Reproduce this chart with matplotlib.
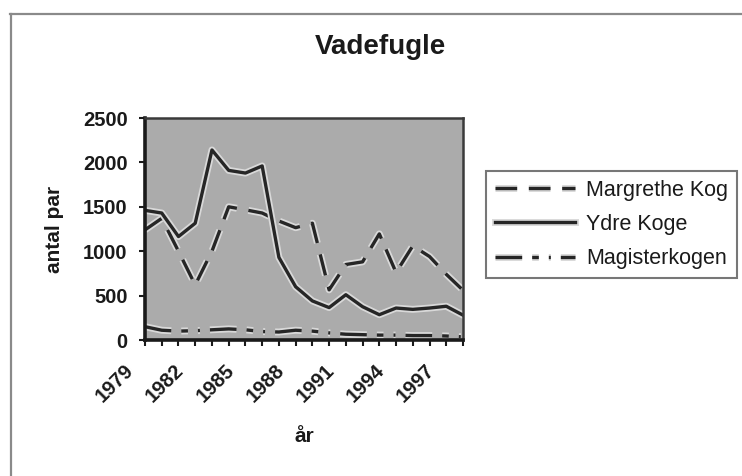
import matplotlib
matplotlib.use("Agg")
import matplotlib.pyplot as plt
import matplotlib.patheffects as pe
import matplotlib.transforms as mtransforms
from matplotlib.lines import Line2D

plt.rcParams['font.family'] = ['Liberation Sans', 'DejaVu Sans']

# data
aar = list(range(1979, 1999))
margrethe_kog = [1240, 1370, 1000, 620, 1000, 1500, 1466, 1430, 1340, 1265,
                 1315, 565, 850, 880, 1195, 760, 1060, 940, 740, 560]
ydre_koge = [1460, 1430, 1165, 1315, 2140, 1910, 1880, 1960, 930, 600,
             440, 365, 510, 375, 285, 360, 345, 360, 380, 280]
magisterkogen = [150, 110, 100, 105, 115, 125, 115, 95, 90, 110,
                 100, 80, 65, 60, 55, 55, 50, 50, 45, 35]
serier = ['Margrethe Kog', 'Ydre Koge', 'Magisterkogen']
y_ticks = [0, 500, 1000, 1500, 2000, 2500]
x_labels = [1979, 1982, 1985, 1988, 1991, 1994, 1997]

W, H = 742, 476
fig = plt.figure(figsize=(W / 100, H / 100), dpi=100)
fig.patch.set_facecolor('white')

# plot area in pixels: left 145, right 463, top 118, bottom 340
ax = fig.add_axes([145 / W, 1 - 340 / H, 318 / W, 222 / H])
ax.set_facecolor('#ababab')

linjefarve = '#262626'
halo = [pe.Stroke(linewidth=5.0, foreground='#d9d9d9'), pe.Normal()]

ax.plot(aar, margrethe_kog, color=linjefarve, lw=2.4,
        linestyle=(0, (6.5, 3.5)), label=serier[0], path_effects=halo)
ax.plot(aar, ydre_koge, color=linjefarve, lw=2.4,
        label=serier[1], path_effects=halo)
ax.plot(aar, magisterkogen, color=linjefarve, lw=2.4,
        linestyle=(0, (8, 3, 2, 3, 0.6, 3)), label=serier[2], path_effects=halo)

ax.set_xlim(1979, 1998)
ax.set_ylim(0, 2500)
ax.set_yticks(y_ticks)
ax.set_xticks(aar)
ax.set_xticklabels([str(a) if a in x_labels else '' for a in aar])

for side in ['top', 'right']:
    ax.spines[side].set_color('#3a3a3a')
    ax.spines[side].set_linewidth(1.8)
for side in ['left', 'bottom']:
    ax.spines[side].set_color('#1a1a1a')
    ax.spines[side].set_linewidth(2.6)

ax.tick_params(axis='y', direction='out', length=4, width=1.5, pad=8.5,
               labelsize=14.5, colors='#1a1a1a')
ax.tick_params(axis='x', direction='out', length=4, width=1.5, pad=11,
               labelsize=14.5, colors='#1a1a1a')
for lab in ax.get_yticklabels():
    lab.set_fontweight('bold')
forskyd = mtransforms.ScaledTranslation(-21 / 100, 0, fig.dpi_scale_trans)
for lab in ax.get_xticklabels():
    lab.set_fontweight('bold')
    lab.set_rotation(45)
    lab.set_ha('right')
    lab.set_rotation_mode('anchor')
    lab.set_va('top')
    lab.set_transform(lab.get_transform() + forskyd)

ax.set_ylabel('antal par', fontsize=15, fontweight='bold', color='#1a1a1a')
ax.yaxis.set_label_coords(-0.255, 0.5)
ax.set_xlabel('år', fontsize=15, fontweight='bold', color='#1a1a1a')
ax.xaxis.set_label_coords(0.5, -0.39)

fig.text(380 / W, 1 - 47 / H, 'Vadefugle', ha='center', va='center',
         fontsize=20, fontweight='bold', color='#1a1a1a')

leg = fig.legend(loc='upper left', bbox_to_anchor=(486 / W, 1 - 171 / H),
                 frameon=True, fancybox=False, fontsize=15.5,
                 handlelength=3.75, handletextpad=0.5, labelspacing=0.62,
                 borderpad=0.4, borderaxespad=0)
leg.get_frame().set_edgecolor('#555555')
leg.get_frame().set_linewidth(1.5)
for t in leg.get_texts():
    t.set_color('#1a1a1a')

# scan frame lines
fig.add_artist(Line2D([10 / W, 1], [1 - 14 / H, 1 - 14 / H], color='#8a8a8a', lw=1.6))
fig.add_artist(Line2D([11 / W, 11 / W], [0, 1 - 14 / H], color='#8a8a8a', lw=1.6))

fig.savefig('out.png', dpi=100)
